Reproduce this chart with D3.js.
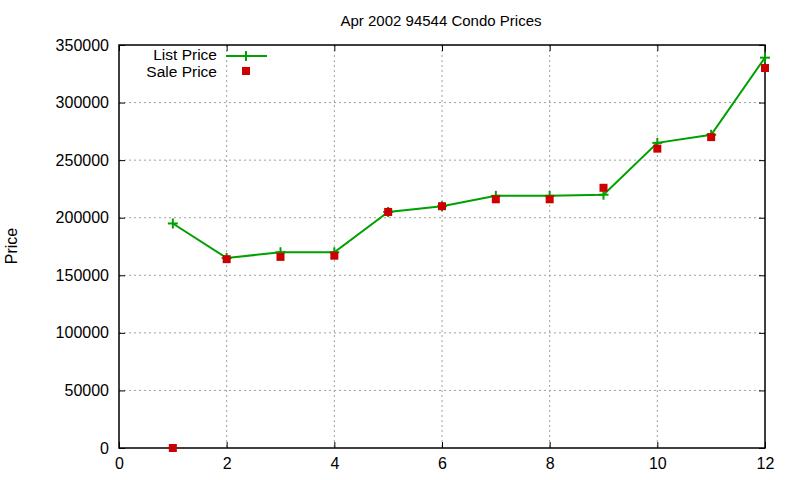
<!DOCTYPE html>
<html>
<head>
<meta charset="utf-8">
<script src="https://cdn.jsdelivr.net/npm/d3@7"></script>
<style>
  body { margin: 0; background: #fff; }
  svg { display: block; font-family: "Liberation Sans", Arial, sans-serif; }
</style>
</head>
<body>
<svg id="chart" width="800" height="480"></svg>
<script>
const months = [1, 2, 3, 4, 5, 6, 7, 8, 9, 10, 11, 12];
const listPrice = [195000, 165000, 170000, 170000, 205000, 210000, 219000, 219000, 220000, 265000, 272000, 339000];
const salePrice = [0, 164000, 166000, 167000, 205000, 210000, 216000, 216000, 226000, 260000, 270000, 330000];
const xTicks = [0, 2, 4, 6, 8, 10, 12];
const yTicks = [0, 50000, 100000, 150000, 200000, 250000, 300000, 350000];

const margin = {top: 45, right: 35, bottom: 32, left: 119};
const width = 800 - margin.left - margin.right;
const height = 480 - margin.top - margin.bottom;
const green = '#00a000';
const red = '#cc0000';

const svg = d3.select('#chart');
const chart = svg.append('g')
  .attr('transform', 'translate(' + margin.left + ',' + margin.top + ')');

const x = d3.scaleLinear().domain([0, 12]).range([0, width]);
const y = d3.scaleLinear().domain([0, 350000]).range([height, 0]);

// grid
chart.append('g')
  .selectAll('line')
  .data(xTicks.slice(1, -1))
  .enter().append('line')
  .attr('x1', (d) => x(d)).attr('x2', (d) => x(d))
  .attr('y1', 0).attr('y2', height)
  .attr('stroke', '#a0a0a0').attr('stroke-dasharray', '2,3');

chart.append('g')
  .selectAll('line')
  .data(yTicks.slice(1, -1))
  .enter().append('line')
  .attr('x1', 0).attr('x2', width)
  .attr('y1', (d) => y(d)).attr('y2', (d) => y(d))
  .attr('stroke', '#a0a0a0').attr('stroke-dasharray', '2,3');

// axes, gnuplot style: ticks pointing inward, mirrored
const axisStyle = (g) => {
  g.select('.domain').remove();
  g.selectAll('line').attr('stroke', '#000');
  g.selectAll('text').style('font-size', '16px').attr('fill', '#000');
};

chart.append('g')
  .attr('transform', 'translate(0,' + height + ')')
  .call(d3.axisBottom(x).tickValues(xTicks).tickSizeInner(-6).tickSizeOuter(0).tickPadding(10))
  .call(axisStyle);

chart.append('g')
  .call(d3.axisTop(x).tickValues(xTicks).tickSizeInner(-6).tickSizeOuter(0).tickFormat(''))
  .call(axisStyle);

chart.append('g')
  .call(d3.axisLeft(y).tickValues(yTicks).tickSizeInner(-6).tickSizeOuter(0).tickPadding(10).tickFormat(d3.format('d')))
  .call(axisStyle);

chart.append('g')
  .attr('transform', 'translate(' + width + ',0)')
  .call(d3.axisRight(y).tickValues(yTicks).tickSizeInner(-6).tickSizeOuter(0).tickFormat(''))
  .call(axisStyle);

chart.append('rect')
  .attr('width', width).attr('height', height)
  .attr('fill', 'none').attr('stroke', '#000').attr('stroke-width', 1.5);

// list price line
const listData = months.map((m, i) => ({m: m, v: listPrice[i]}));
const saleData = months.map((m, i) => ({m: m, v: salePrice[i]}));

chart.append('path')
  .datum(listData)
  .attr('d', d3.line().x((d) => x(d.m)).y((d) => y(d.v)))
  .attr('fill', 'none').attr('stroke', green).attr('stroke-width', 2);

const plus = (sel) => {
  sel.append('line').attr('x1', -5).attr('x2', 5).attr('y1', 0).attr('y2', 0);
  sel.append('line').attr('x1', 0).attr('x2', 0).attr('y1', -5).attr('y2', 5);
  sel.attr('stroke', green).attr('stroke-width', 2);
};

chart.append('g').selectAll('g')
  .data(listData)
  .enter().append('g')
  .attr('transform', (d) => 'translate(' + x(d.m) + ',' + y(d.v) + ')')
  .call(plus);

chart.append('g').selectAll('rect')
  .data(saleData)
  .enter().append('rect')
  .attr('x', (d) => x(d.m) - 4)
  .attr('y', (d) => y(d.v) - 4)
  .attr('width', 8).attr('height', 8)
  .attr('fill', red);

// legend
const legend = svg.append('g');
legend.append('text')
  .attr('x', 217).attr('y', 60)
  .attr('text-anchor', 'end').style('font-size', '15.5px')
  .text('List Price');
legend.append('line')
  .attr('x1', 226).attr('x2', 267).attr('y1', 56).attr('y2', 56)
  .attr('stroke', green).attr('stroke-width', 2);
legend.append('g')
  .attr('transform', 'translate(246,56)')
  .call(plus);
legend.append('text')
  .attr('x', 217).attr('y', 77)
  .attr('text-anchor', 'end').style('font-size', '15.5px')
  .text('Sale Price');
legend.append('rect')
  .attr('x', 242).attr('y', 67).attr('width', 8).attr('height', 8)
  .attr('fill', red);

// title and axis label
svg.append('text')
  .attr('x', 441).attr('y', 26)
  .attr('text-anchor', 'middle').style('font-size', '15px')
  .text('Apr 2002 94544 Condo Prices');

svg.append('text')
  .attr('transform', 'translate(17,246) rotate(-90)')
  .attr('text-anchor', 'middle').style('font-size', '16px')
  .text('Price');
</script>
</body>
</html>
